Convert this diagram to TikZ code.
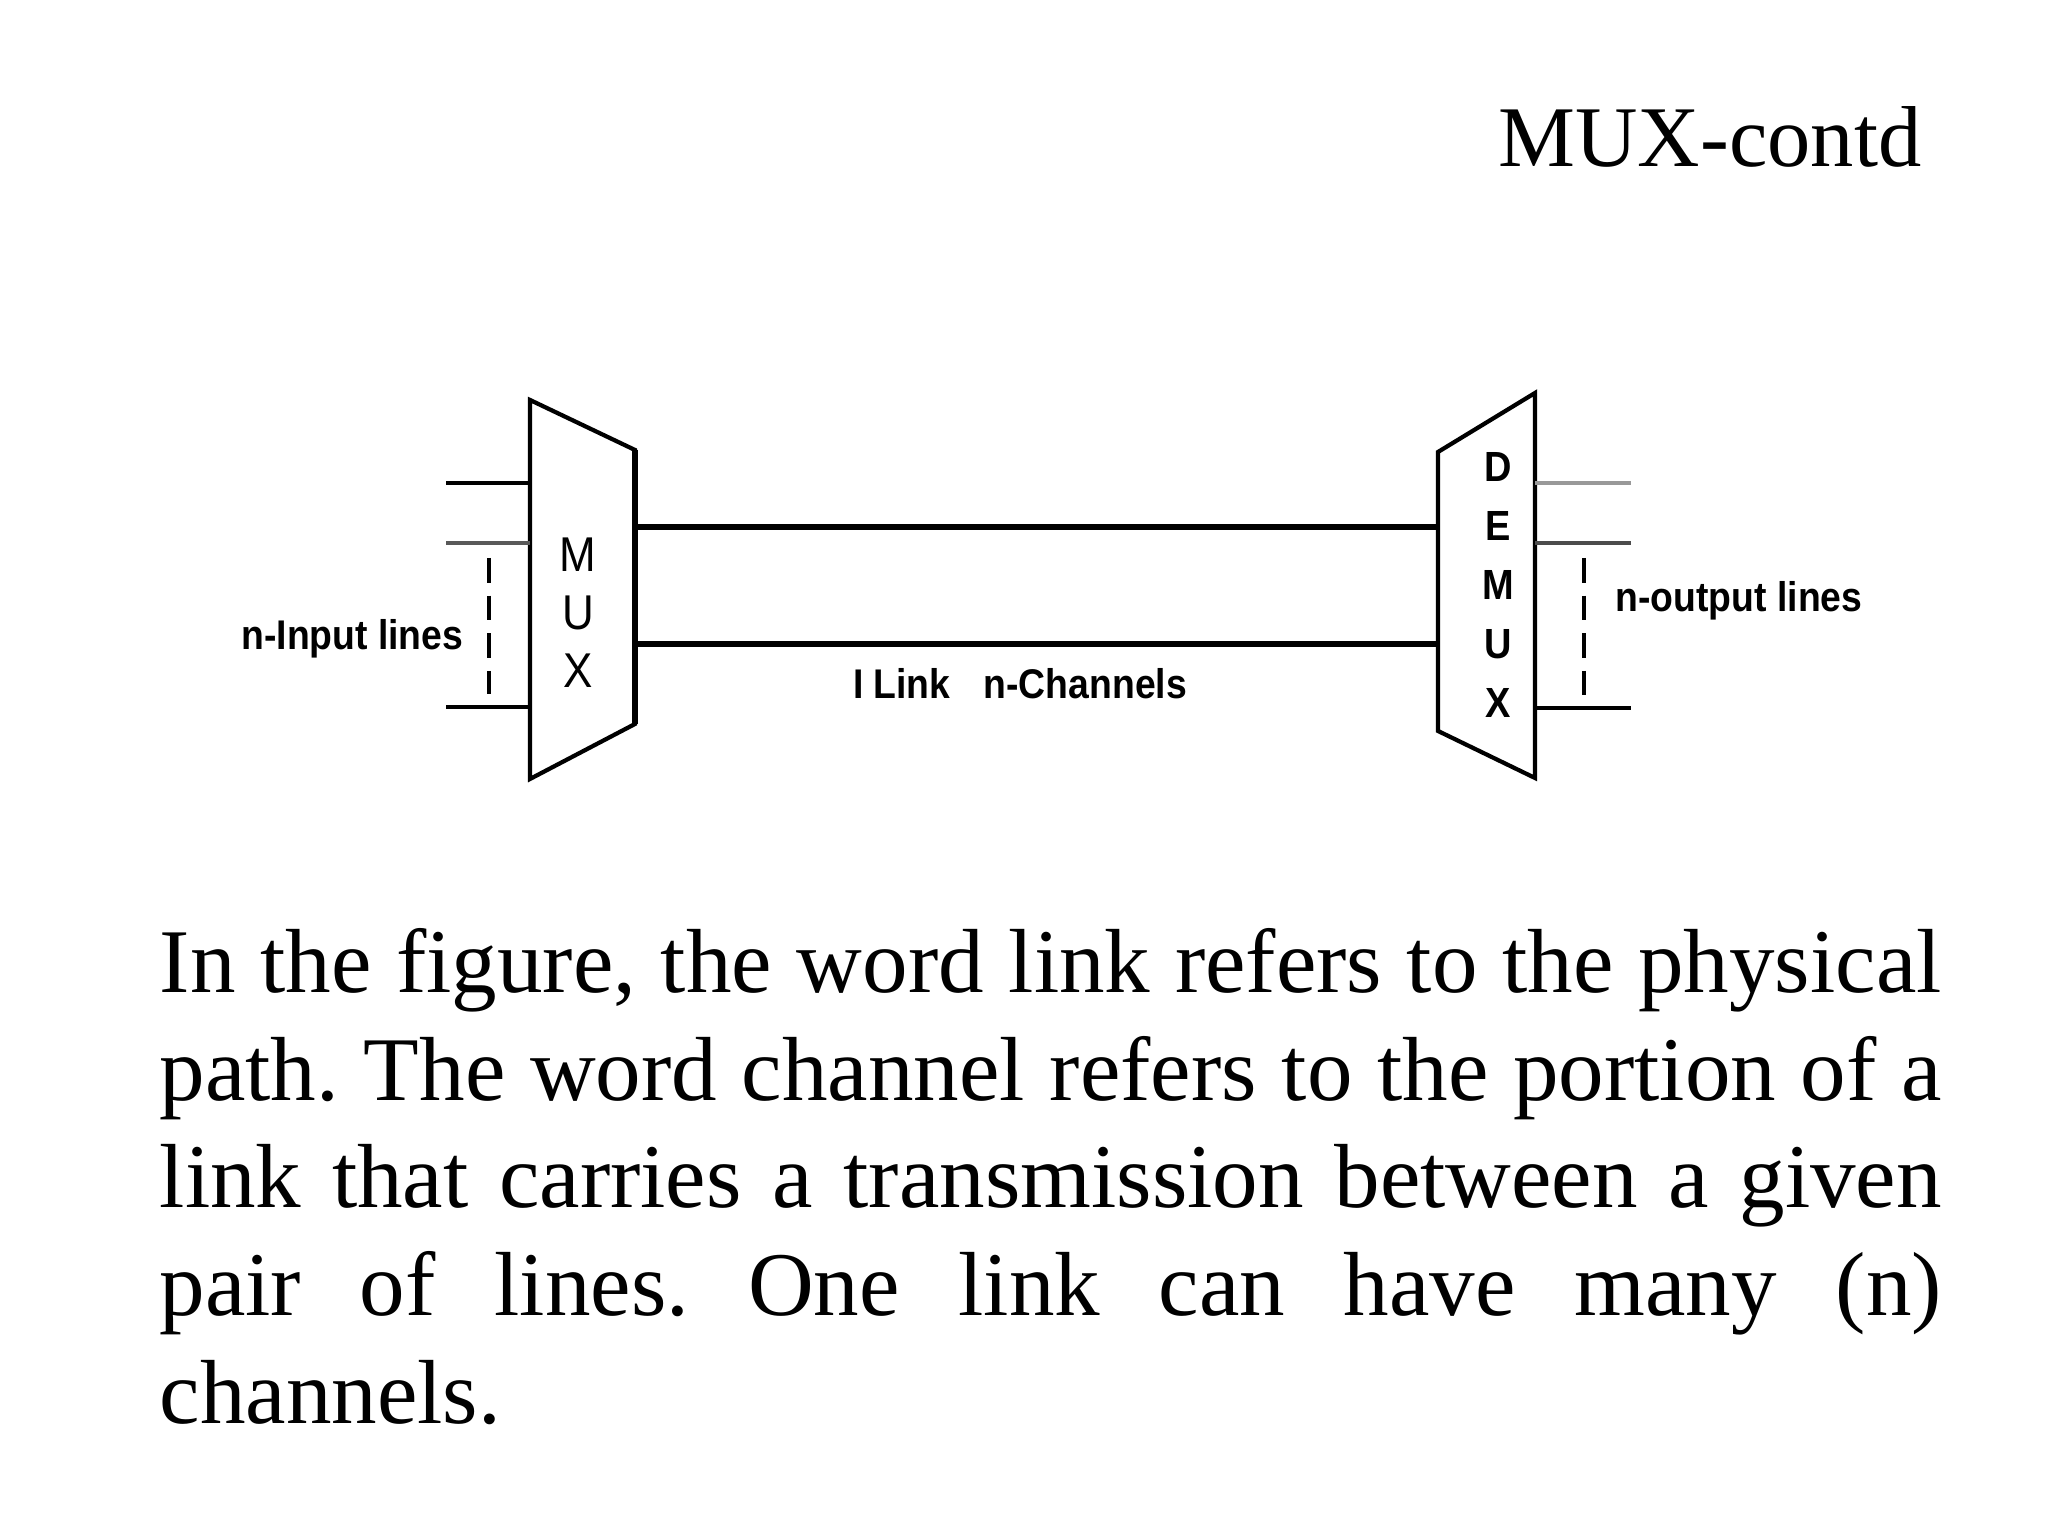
\documentclass[tikz,border=0pt]{standalone}
\usepackage{fontspec}
\setmainfont{Liberation Serif}
\newfontfamily\labelfont[FakeStretch=0.9]{Liberation Sans}
\usepackage{tikz}
\usetikzlibrary{positioning, calc}
\frenchspacing
\tikzset{
  %% Trapezoid outline of mux / demux
  muxbody/.style={draw=black, fill=white, line width=1.2pt, line join=miter},
  %% Thick output / input edge
  muxedge/.style={draw=black, line width=1.8pt},
  %% Single input or output line
  iline/.style={draw=#1, line width=1.4pt},
  iline/.default=black,
  %% Link line between the two boxes
  linkline/.style={draw=black, line width=1.8pt},
  %% Dashed "and so on" line
  dots/.style={draw=black, line width=1.1pt, dash pattern=on 7pt off 3.7pt},
  %% Small sans labels
  lbl/.style={font=\labelfont\fontsize{11.8}{13}\selectfont\bfseries,
              inner sep=0pt},
  %% Letters stacked in a box
  stack/.style={align=center, inner sep=0pt},
  %% Slide text
  slidetext/.style={font=\fontsize{25.9}{30.6}\selectfont, inner sep=0pt},
}

\begin{document}
\begin{tikzpicture}

  \useasboundingbox[fill=white] (0,0) rectangle (20.48,15.36);

  %% Title
  \node[anchor=base east, inner sep=0pt,
        font=\fontsize{24.6}{29}\selectfont] (title) at (19.22,13.69)
       {MUX-contd};

  %% MUX corners
  \coordinate (mtl) at (5.30,11.36);
  \coordinate (mbl) at (5.30,7.57);
  \coordinate (mtr) at (6.35,10.86);
  \coordinate (mbr) at (6.35,8.12);
  \draw[muxbody] (mtl) -- (mtr) -- (mbr) -- (mbl) -- cycle;
  \draw[muxedge] (mtr) -- (mbr);
  \node[stack, font=\labelfont\fontsize{13.9}{16.5}\selectfont] (muxtxt)
       at (5.78,9.23) {M\\U\\X};

  %% DEMUX corners
  \coordinate (dtl) at (14.38,10.84);
  \coordinate (dbl) at (14.38,8.05);
  \coordinate (dtr) at (15.35,11.43);
  \coordinate (dbr) at (15.35,7.58);
  \draw[muxbody] (dtl) -- (dtr) -- (dbr) -- (dbl) -- cycle;
  \node[stack, font=\labelfont\fontsize{12}{16.8}\selectfont\bfseries]
       (demuxtxt) at (14.98,9.51) {D\\E\\M\\U\\X};

  %% Input lines
  \coordinate (in1) at (4.46,10.53);
  \coordinate (in2) at (4.46,9.93);
  \coordinate (in3) at (4.46,8.29);
  \draw[iline] (in1) -- (in1 -| mtl);
  \draw[iline=black!65] (in2) -- (in2 -| mtl);
  \draw[iline] (in3) -- (in3 -| mtl);
  \coordinate (ind1) at (4.89,9.78);
  \coordinate (ind2) at (4.89,8.42);
  \draw[dots] (ind1) -- (ind2);
  \node[lbl, anchor=base east] (inlbl) at (4.64,8.86) {n-Input lines};

  %% Link with its channels
  \coordinate (lk1) at (6.35,10.09);
  \coordinate (lk2) at (6.35,8.92);
  \draw[linkline] (lk1) -- (lk1 -| dtl);
  \draw[linkline] (lk2) -- (lk2 -| dtl);
  \node[lbl, anchor=base] (linklbl) at (10.20,8.37)
       {I Link\hspace{0.8em}n-Channels};

  %% Output lines
  \coordinate (out1) at (16.31,10.53);
  \coordinate (out2) at (16.31,9.93);
  \coordinate (out3) at (16.31,8.28);
  \draw[iline=black!40, line width=1.1pt] (out1 -| dtr) -- (out1);
  \draw[iline=black!70] (out2 -| dtr) -- (out2);
  \draw[iline, line width=1.1pt] (out3 -| dtr) -- (out3);
  \coordinate (outd1) at (15.84,9.78);
  \coordinate (outd2) at (15.84,8.36);
  \draw[dots] (outd1) -- (outd2);
  \node[lbl, anchor=base west] (outlbl) at (16.15,9.24) {n-output lines};

  %% Explanation
  \node[slidetext, anchor=base west] (par1) at (1.59,5.43)
       {\makebox[17.82cm][s]{In the figure, the word link refers to the physical}};
  \node[slidetext, anchor=base west] (par2) at (1.59,4.35)
       {\makebox[17.82cm][s]{path. The word channel refers to the portion of a}};
  \node[slidetext, anchor=base west] (par3) at (1.59,3.28)
       {\makebox[17.82cm][s]{link that carries a transmission between a given}};
  \node[slidetext, anchor=base west] (par4) at (1.59,2.20)
       {\makebox[17.82cm][s]{pair of lines. One link can have many (n)}};
  \node[slidetext, anchor=base west] (par5) at (1.59,1.12) {channels.};

\end{tikzpicture}
\end{document}
